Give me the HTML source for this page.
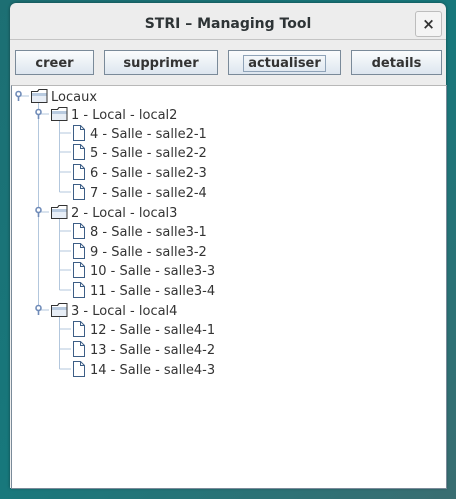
<!DOCTYPE html>
<html><head><style>
html,body{margin:0;padding:0;width:456px;height:499px;overflow:hidden;background:linear-gradient(135deg,#1d6f73,#17787c 50%,#3a6e72);font-family:"DejaVu Sans","Liberation Sans",sans-serif;}
.win{position:absolute;left:10px;top:3px;width:436px;height:485px;background:#ededed;border-radius:6px 6px 0 0;box-shadow:0 0 3px rgba(0,0,0,.4);}
.title{position:absolute;left:0;top:0;width:436px;height:36px;text-align:center;line-height:42px;font-weight:bold;font-size:14px;color:#2e3436;border-bottom:1px solid #c4c4c4;}
.close{position:absolute;left:405px;top:8px;width:27px;height:26px;border:1px solid #bdbdbd;border-radius:3px;background:#f4f4f4;text-align:center;line-height:25px;font-size:15px;font-weight:bold;color:#333;box-sizing:border-box;}
.btn{position:absolute;top:47px;height:25px;box-sizing:border-box;border:1px solid #7a8a99;background:linear-gradient(#fbfcfd,#dde6ef);font-weight:bold;font-size:13px;color:#333;text-align:center;line-height:25px;}
.tree{position:absolute;left:1px;top:82px;width:434px;height:402px;background:#fff;border:1px solid #7a8a99;border-top:1px solid #b8b8b8;}
svg text{font-family:"DejaVu Sans","Liberation Sans",sans-serif;font-size:13px;fill:#333;}
</style></head><body>
<div class="win">
<div class="title">STRI – Managing Tool</div>
<div class="close">×</div>
<div class="btn" style="left:5px;width:79px">creer</div>
<div class="btn" style="left:94px;width:114px">supprimer</div>
<div class="btn" style="left:218px;width:113px"><span style="border:1px solid #8fa3b8;padding:0 4px">actualiser</span></div>
<div class="btn" style="left:341px;width:91px">details</div>
<div class="tree"></div>
</div>
<svg width="456" height="499" style="position:absolute;left:0;top:0">
<defs>
<g id="fold"><path d="M0.5,3.5 h6 l1.5,-2 h8 v13 h-15.5z" fill="#fff" stroke="#333"/><rect x="1" y="5" width="15" height="3" fill="#b9cbe0"/><path d="M1,8 h15 v6 h-15z" fill="#e8eef6"/><path d="M0.5,3.5 h6 l1.5,-2 h8 v13 h-15.5z" fill="none" stroke="#333"/></g>
<g id="doc"><path d="M0.5,0.5 h7 l4,4 v11 h-11z" fill="#fff" stroke="#3d5e86"/><path d="M7.5,0.5 v4 h4" fill="none" stroke="#3d5e86"/></g>
<g id="hnd"><circle cx="0" cy="-2" r="2.5" fill="#fff" stroke="#6f8bb8" stroke-width="1.6"/><line x1="0" y1="0.5" x2="0" y2="5" stroke="#6f8bb8" stroke-width="1.6"/></g>
</defs>
<g stroke="#b3c7dd" fill="none">
<line x1="18.5" y1="96" x2="29" y2="96"/>
<line x1="38.5" y1="101" x2="38.5" y2="310"/>
<line x1="38.5" y1="114" x2="49" y2="114"/>
<line x1="38.5" y1="212" x2="49" y2="212"/>
<line x1="38.5" y1="310" x2="49" y2="310"/>
<line x1="59.5" y1="119" x2="59.5" y2="192"/>
<line x1="59.5" y1="217" x2="59.5" y2="290"/>
<line x1="59.5" y1="315" x2="59.5" y2="369"/>
<line x1="59.5" y1="133" x2="71" y2="133"/><line x1="59.5" y1="152" x2="71" y2="152"/><line x1="59.5" y1="172" x2="71" y2="172"/><line x1="59.5" y1="192" x2="71" y2="192"/>
<line x1="59.5" y1="231" x2="71" y2="231"/><line x1="59.5" y1="251" x2="71" y2="251"/><line x1="59.5" y1="270" x2="71" y2="270"/><line x1="59.5" y1="290" x2="71" y2="290"/>
<line x1="59.5" y1="329" x2="71" y2="329"/><line x1="59.5" y1="349" x2="71" y2="349"/><line x1="59.5" y1="369" x2="71" y2="369"/>
</g>
<use href="#hnd" x="18.5" y="96"/><use href="#hnd" x="38.5" y="114"/><use href="#hnd" x="38.5" y="212"/><use href="#hnd" x="38.5" y="310"/>
<use href="#fold" x="31" y="88"/><use href="#fold" x="51" y="106"/><use href="#fold" x="51" y="204"/><use href="#fold" x="51" y="302"/>
<g>
<use href="#doc" x="73" y="125"/><use href="#doc" x="73" y="144"/><use href="#doc" x="73" y="164"/><use href="#doc" x="73" y="184"/>
<use href="#doc" x="73" y="223"/><use href="#doc" x="73" y="243"/><use href="#doc" x="73" y="262"/><use href="#doc" x="73" y="282"/>
<use href="#doc" x="73" y="321"/><use href="#doc" x="73" y="341"/><use href="#doc" x="73" y="361"/>
</g>
<text x="51" y="101">Locaux</text>
<text x="71" y="119">1 - Local - local2</text>
<text x="90" y="138">4 - Salle - salle2-1</text>
<text x="90" y="157">5 - Salle - salle2-2</text>
<text x="90" y="177">6 - Salle - salle2-3</text>
<text x="90" y="197">7 - Salle - salle2-4</text>
<text x="71" y="217">2 - Local - local3</text>
<text x="90" y="236">8 - Salle - salle3-1</text>
<text x="90" y="256">9 - Salle - salle3-2</text>
<text x="90" y="275">10 - Salle - salle3-3</text>
<text x="90" y="295">11 - Salle - salle3-4</text>
<text x="71" y="315">3 - Local - local4</text>
<text x="90" y="334">12 - Salle - salle4-1</text>
<text x="90" y="354">13 - Salle - salle4-2</text>
<text x="90" y="374">14 - Salle - salle4-3</text>
</svg>
</body></html>
